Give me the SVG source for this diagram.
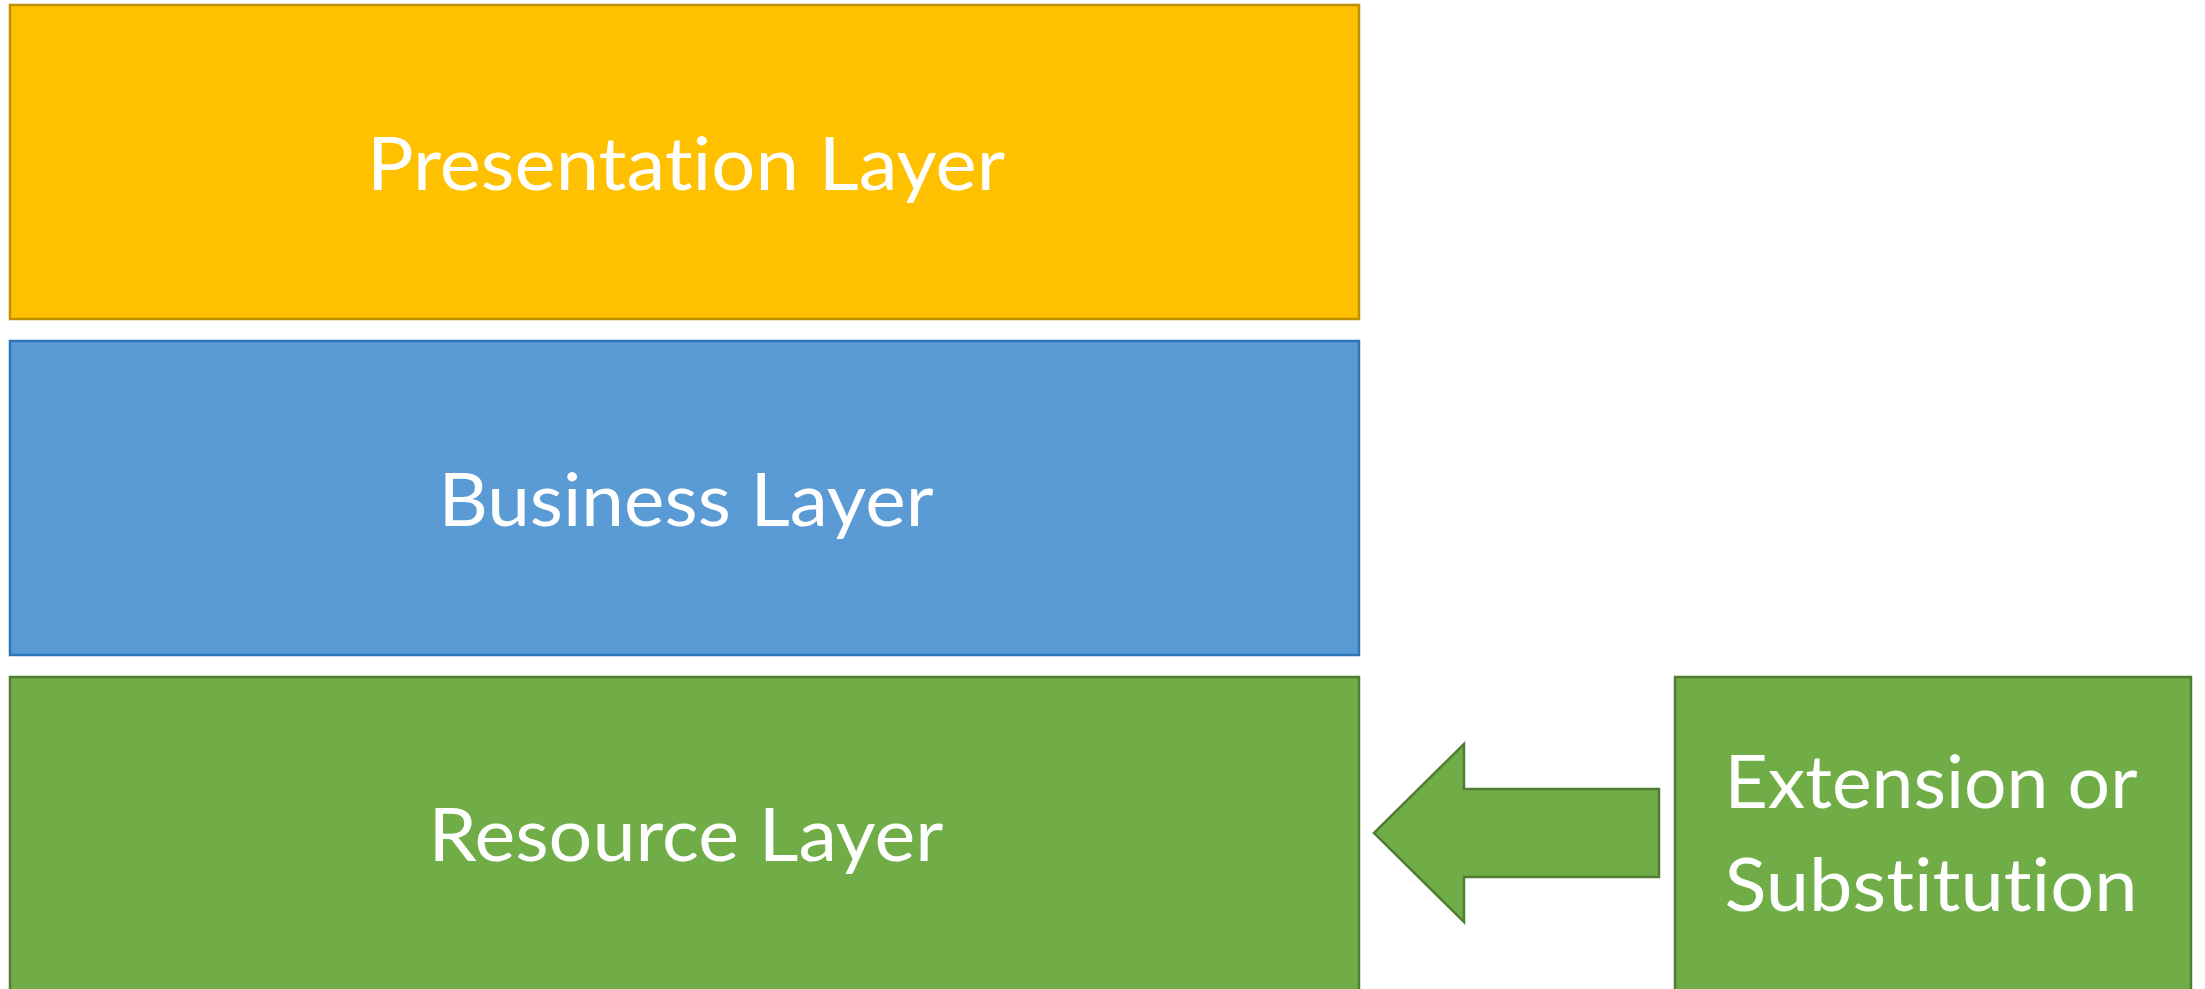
<svg xmlns="http://www.w3.org/2000/svg" width="2205" height="989" viewBox="0 0 2205 989">
<style>
.lbl{font-family:Lato,"Liberation Sans",sans-serif;font-size:74px;fill:#ffffff;text-anchor:middle;font-variant-ligatures:none;font-feature-settings:"liga" 0,"clig" 0}
.y{fill:#FFC000;stroke:#BF9000;stroke-width:2.5}
.b{fill:#5B9BD5;stroke:#2E75B6;stroke-width:2.5}
.g{fill:#70AD47;stroke:#507E32;stroke-width:2.5}
</style>
<rect width="2205" height="989" fill="#ffffff"/>
<g id="presentation">
<rect class="y" x="10" y="5" width="1349" height="314"/>
<text class="lbl" x="686" y="190" textLength="638" lengthAdjust="spacingAndGlyphs">Presentation Layer</text>
</g>
<g id="business">
<rect class="b" x="10" y="341" width="1349" height="314"/>
<text class="lbl" x="686" y="526" textLength="495" lengthAdjust="spacingAndGlyphs">Business Layer</text>
</g>
<g id="resource">
<rect class="g" x="10" y="677" width="1349" height="318"/>
<text class="lbl" x="686" y="861" textLength="515" lengthAdjust="spacingAndGlyphs">Resource Layer</text>
</g>
<g id="extension">
<rect class="g" x="1675" y="677" width="516" height="318"/>
<text class="lbl" x="1931" y="808" textLength="413" lengthAdjust="spacingAndGlyphs">Extension or</text>
<text class="lbl" x="1931" y="911" textLength="413" lengthAdjust="spacingAndGlyphs">Substitution</text>
</g>
<g id="connectors">
<polygon class="g" points="1374,833 1464,744 1464,789 1659,789 1659,877 1464,877 1464,922"/>
</g>
</svg>
